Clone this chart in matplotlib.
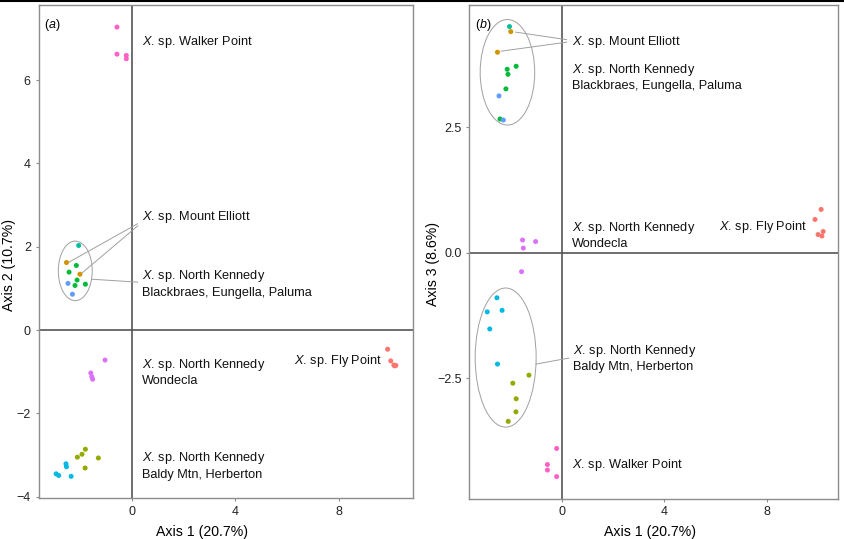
import matplotlib
matplotlib.use("Agg")
import matplotlib.pyplot as plt
from matplotlib.patches import Ellipse
from matplotlib.lines import Line2D

plt.rcParams['font.family'] = ['Liberation Sans', 'DejaVu Sans']
plt.rcParams['mathtext.fontset'] = 'custom'
plt.rcParams['mathtext.rm'] = 'Liberation Sans'
plt.rcParams['mathtext.it'] = 'Liberation Sans:italic'

# ---------------- data ----------------
group_colors = ["#F8766D", "#D39200", "#93AA00", "#00BA38", "#00C19F",
                "#00B9E3", "#619CFF", "#DB72FB", "#FF61C3"]
group_names = ["Fly Point", "Mount Elliott", "Herberton", "Blackbraes", "Eungella",
               "Baldy Mtn", "Paluma", "Wondecla", "Walker Point"]

axis1 = [
    [9.88, 10.0, 10.12, 10.2, 10.15],
    [-2.52, -2.0],
    [-1.29, -1.92, -1.79, -1.80, -2.10],
    [-2.14, -2.42, -2.11, -2.19, -1.79],
    [-2.05],
    [-2.92, -2.82, -2.34, -2.54, -2.52],
    [-2.46, -2.29],
    [-1.03, -1.58, -1.54, -1.51],
    [-0.57, -0.57, -0.21, -0.21],
]
axis2 = [
    [-0.46, -0.74, -0.84, -0.85, -0.86],
    [1.62, 1.34],
    [-3.07, -2.98, -2.86, -3.31, -3.05],
    [1.55, 1.39, 1.20, 1.07, 1.10],
    [2.03],
    [-3.45, -3.49, -3.51, -3.21, -3.28],
    [1.12, 0.86],
    [-0.72, -1.03, -1.12, -1.18],
    [7.27, 6.62, 6.59, 6.51],
]
axis3 = [
    [0.66, 0.36, 0.86, 0.42, 0.33],
    [3.99, 4.40],
    [-2.44, -2.60, -2.91, -3.17, -3.36],
    [3.65, 2.66, 3.55, 3.26, 3.71],
    [4.50],
    [-1.18, -1.52, -1.15, -0.90, -2.22],
    [3.12, 2.64],
    [0.22, -0.38, 0.25, 0.09],
    [-4.22, -4.33, -3.90, -4.46],
]

xlabel = "Axis 1 (20.7%)"
ylabel_a = "Axis 2 (10.7%)"
ylabel_b = "Axis 3 (8.6%)"
xticks = [0, 4, 8]
yticks_a = [-4, -2, 0, 2, 4, 6]
yticks_b = [-2.5, 0.0, 2.5]
ytick_labels_b = ["\u22122.5", "0.0", "2.5"]

NK = r"$\it{X}$. sp. North Kennedy"
# labels: (text, x, y, ha)
labels_a = [
    (r"$\it{X}$. sp. Walker Point", 0.39, 6.91, "left"),
    (r"$\it{X}$. sp. Mount Elliott", 0.39, 2.72, "left"),
    (NK + "\nBlackbraes, Eungella, Paluma", 0.39, 1.12, "left"),
    (NK + "\nWondecla", 0.39, -1.01, "left"),
    (NK + "\nBaldy Mtn, Herberton", 0.39, -3.25, "left"),
    (r"$\it{X}$. sp. Fly Point", 9.65, -0.74, "right"),
]
labels_b = [
    (r"$\it{X}$. sp. Mount Elliott", 0.38, 4.20, "left"),
    (NK + "\nBlackbraes, Eungella, Paluma", 0.38, 3.50, "left"),
    (NK + "\nWondecla", 0.38, 0.35, "left"),
    (r"$\it{X}$. sp. Fly Point", 9.56, 0.51, "right"),
    (NK + "\nBaldy Mtn, Herberton", 0.44, -2.10, "left"),
    (r"$\it{X}$. sp. Walker Point", 0.38, -4.23, "left"),
]
# leader lines: (x0, y0, x1, y1)
leaders_a = [(-2.42, 1.63, 0.22, 2.55), (-1.90, 1.38, 0.23, 2.50),
             (-1.54, 1.22, 0.23, 1.15)]
leaders_b = [(-1.81, 4.39, 0.18, 4.24), (-2.38, 4.01, 0.18, 4.19),
             (-1.02, -2.22, 0.27, -2.10)]
# ellipses: (cx, cy, width, height)
ellipses_a = [(-2.18, 1.42, 1.31, 1.43)]
ellipses_b = [(-2.13, 3.59, 2.13, 2.10), (-2.20, -2.09, 2.38, 2.77)]

xlim_a = (-3.6, 10.86); ylim_a = (-4.03, 7.8)
xlim_b = (-3.62, 10.79); ylim_b = (-4.90, 4.93)

# ---------------- figure ----------------
W, H = 844, 539
fig = plt.figure(figsize=(W / 100, H / 100), dpi=100)
ax_a = fig.add_axes([38.5 / W, 1 - 498 / H, (413 - 38.5) / W, (498 - 5) / H])
ax_b = fig.add_axes([469.3 / W, 1 - 498.7 / H, (838.3 - 469.3) / W, (498.7 - 5) / H])

frame_col = "#8c8c8c"
zero_col = "#555555"
guide_col = "#a0a0a0"


def style(ax, xlim, ylim, yt, ytl, yvals, labels, leaders, ells, tag):
    ax.axhline(0, color=zero_col, lw=1.2, zorder=1)
    ax.axvline(0, color=zero_col, lw=1.2, zorder=1)
    for xs, ys, c in zip(axis1, yvals, group_colors):
        ax.scatter(xs, ys, s=13, color=c, edgecolors='none', zorder=3)
    for cx, cy, w, h in ells:
        ax.add_patch(Ellipse((cx, cy), w, h, fill=False, ec=guide_col, lw=0.7, zorder=2))
    for x0, y0, x1, y1 in leaders:
        ax.plot([x0, x1], [y0, y1], color=guide_col, lw=0.7, zorder=2)
    for t, x, y, ha in labels:
        ax.text(x, y, t, ha=ha, va='center', fontsize=9.2, color='#111111',
                linespacing=1.25)
    ax.set_xlim(*xlim)
    ax.set_ylim(*ylim)
    ax.set_xticks(xticks)
    ax.set_yticks(yt)
    if ytl is not None:
        ax.set_yticklabels(ytl)
    for s in ax.spines.values():
        s.set_color(frame_col)
        s.set_linewidth(1.0)
    ax.tick_params(direction='out', length=2.5, width=0.8, color=frame_col,
                   labelsize=9, labelcolor='#222222', pad=3)
    ax.text(0.015, 0.975, "(" + tag + ")", transform=ax.transAxes,
            ha='left', va='top', fontsize=9)


style(ax_a, xlim_a, ylim_a, yticks_a, None, axis2, labels_a, leaders_a, ellipses_a,
      r"$\it{a}$")
style(ax_b, xlim_b, ylim_b, yticks_b, ytick_labels_b, axis3, labels_b, leaders_b,
      ellipses_b, r"$\it{b}$")

# axis titles
fig.text(202 / W, 1 - 532 / H, xlabel, ha='center', va='center', fontsize=10.2)
fig.text(650 / W, 1 - 532 / H, xlabel, ha='center', va='center', fontsize=10.2)
fig.text(9 / W, 1 - 265 / H, ylabel_a, ha='center', va='center', rotation=90, fontsize=10.2)
fig.text(433 / W, 1 - 264 / H, ylabel_b, ha='center', va='center', rotation=90, fontsize=10.2)

# thin black rule at the top edge
fig.add_artist(Line2D([0, 111 / W], [1 - 0.8 / H, 1 - 0.8 / H], color='black', lw=1.5,
                      transform=fig.transFigure))
fig.add_artist(Line2D([113 / W, 1], [1 - 0.8 / H, 1 - 0.8 / H], color='black', lw=1.5,
                      transform=fig.transFigure))

fig.savefig("out.png", dpi=100)
